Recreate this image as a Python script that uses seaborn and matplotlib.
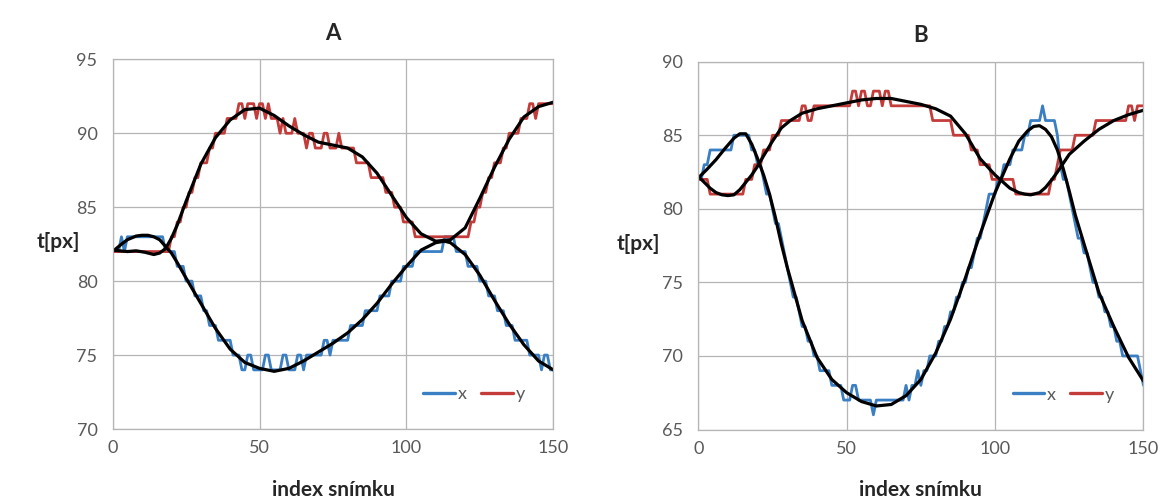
import matplotlib
matplotlib.use("Agg")
import matplotlib.pyplot as plt
import numpy as np
import pandas as pd
import seaborn as sns

# ---------------- data ----------------
frames = list(range(151))

A_x_raw = [82,82,82,83,82,83,83,83,83,83,
           83,83,83,83,83,83,83,83,82,82,
           82,82,81,81,81,80,80,80,79,79,
           79,78,78,77,77,77,76,76,76,76,
           76,75,75,75,74,74,75,75,74,74,
           74,74,75,75,74,74,74,74,75,75,
           74,74,74,75,75,74,75,75,75,75,
           75,75,76,76,75,76,76,76,76,76,
           76,77,77,77,77,77,78,78,78,78,
           78,79,79,79,79,80,80,80,80,81,
           81,81,81,82,82,82,82,82,82,82,
           82,82,82,83,83,83,83,82,82,82,
           82,81,81,81,81,80,80,80,79,79,
           79,78,78,78,77,77,77,76,76,76,
           76,76,75,75,75,75,74,75,75,74,
           74]
A_y_raw = [82,82,82,82,82,82,82,82,82,82,
           82,82,82,82,82,82,82,82,82,82,
           83,83,84,84,85,85,86,86,87,87,
           88,88,88,89,89,90,90,90,90,91,
           91,91,91,92,92,91,92,92,92,91,
           92,92,91,92,91,91,91,90,91,90,
           90,90,91,90,90,90,89,90,90,89,
           89,89,90,90,89,89,89,90,89,89,
           89,89,89,88,88,88,88,88,87,87,
           87,87,87,86,86,86,85,85,85,84,
           84,84,84,83,83,83,83,83,83,83,
           83,83,83,83,83,83,83,83,83,83,
           83,83,84,84,85,85,86,86,87,87,
           88,88,88,89,89,90,90,90,90,91,
           91,91,92,92,91,92,92,92,92,92,
           92]
A_x_fit_frames = [0,3,5,8,10,12,14,16,18,20,22,25,30,35,40,45,50,55,60,65,70,75,80,85,
                  90,95,100,105,110,113,115,120,125,130,135,140,145,150]
A_x_fit = [82.0,82.5,82.8,83.05,83.1,83.1,83.0,82.8,82.35,81.9,81.25,80.2,78.5,76.8,75.4,
           74.5,74.1,73.9,74.1,74.6,75.2,75.8,76.5,77.4,78.5,79.8,81.0,82.1,82.6,82.7,82.6,
           81.8,80.4,78.7,77.1,75.7,74.6,74.0]
A_y_fit_frames = [0,5,8,11,14,16,18,20,22,25,30,35,40,45,50,55,60,65,70,75,80,85,90,95,
                  100,105,110,115,120,125,130,135,140,145,150]
A_y_fit = [82.1,82.0,82.05,81.95,81.8,81.9,82.2,82.9,83.8,85.4,87.9,89.7,90.9,91.6,91.7,
           91.2,90.5,89.9,89.4,89.2,89.0,88.4,87.3,85.8,84.3,83.2,82.7,82.8,83.6,85.6,87.7,
           89.6,91.1,91.8,92.1]

B_x_raw = [82,82,83,83,84,84,84,84,84,84,
           84,84,85,85,85,85,85,85,84,84,
           83,83,82,81,81,80,79,79,78,77,
           76,75,74,74,73,72,72,71,71,70,
           70,69,69,69,69,68,68,68,68,67,
           67,67,68,68,67,67,67,67,67,66,
           67,67,67,67,67,67,67,67,67,67,
           68,67,68,68,69,68,69,69,70,70,
           70,71,71,72,72,73,73,74,74,75,
           75,76,76,77,78,78,79,80,81,81,
           81,82,82,83,83,83,84,84,84,84,
           85,85,86,86,86,86,87,86,86,86,
           86,85,83,82,82,81,80,79,78,78,
           77,77,76,75,75,74,74,73,73,72,
           72,71,71,70,70,70,70,70,70,69,
           68]
B_y_raw = [82,82,82,82,81,81,81,81,81,81,
           81,81,81,81,81,81,82,82,82,83,
           83,83,84,84,84,85,85,85,86,86,
           86,86,86,86,86,87,87,86,86,87,
           87,87,87,87,87,87,87,87,87,87,
           87,87,88,88,87,88,88,87,87,88,
           88,88,87,88,88,87,87,87,87,87,
           87,87,87,87,87,87,87,87,87,86,
           86,86,86,86,86,86,85,85,85,85,
           85,85,84,84,84,83,83,83,83,82,
           82,82,82,82,82,82,82,81,81,81,
           81,81,81,81,81,81,81,81,81,82,
           82,83,84,84,84,84,84,85,85,85,
           85,85,85,85,86,86,86,86,86,86,
           86,86,86,86,86,87,87,86,87,87,
           87]
B_x_fit_frames = [0,3,6,9,12,14,16,18,20,22,24,26,28,30,35,40,45,50,55,60,65,70,75,80,85,
                  90,95,100,105,108,111,113,115,117,119,121,123,125,127,130,135,140,145,150]
B_x_fit = [82.1,82.7,83.35,84.1,84.8,85.1,85.1,84.4,83.4,82.3,81.0,79.4,77.6,76.0,72.4,69.9,
           68.4,67.5,66.9,66.6,66.7,67.3,68.4,70.2,72.5,75.3,78.3,81.1,83.4,84.6,85.3,85.6,
           85.65,85.4,84.9,84.0,82.7,81.2,79.6,77.6,74.3,72.0,69.9,68.3]
B_y_fit_frames = [0,2,4,6,8,10,12,14,16,18,20,22,25,28,31,35,40,45,50,55,60,65,70,75,80,85,
                  90,95,100,105,108,110,112,115,117,119,121,123,125,130,135,140,145,150]
B_y_fit = [82.2,81.8,81.4,81.1,80.95,80.9,80.95,81.3,81.8,82.3,82.9,83.6,84.6,85.5,86.0,86.5,
           86.8,87.0,87.2,87.4,87.5,87.5,87.3,87.1,86.8,86.3,85.1,83.4,82.3,81.4,81.1,81.0,
           80.95,81.1,81.45,81.95,82.5,83.1,83.7,84.6,85.4,86.0,86.4,86.7]

titles = ["A", "B"]
y_ticks = [[70, 75, 80, 85, 90, 95], [65, 70, 75, 80, 85, 90]]
x_ticks = [0, 50, 100, 150]

# ---------------- style ----------------
sns.set_theme(style="white")
plt.rcParams["font.family"] = ["Lato", "DejaVu Sans"]

BLUE = "#3a7fc3"
RED = "#c43c3a"
GRID = "#b5b5b5"
TXT = "#595959"
LBL = "#262626"

fig = plt.figure(figsize=(11.65, 5.04), dpi=100)
axA = fig.add_axes([0.0967, 0.1488, 0.3782, 0.7335])
axB = fig.add_axes([0.5994, 0.1478, 0.3821, 0.7298])

panels = [
    (axA, A_x_raw, A_y_raw, A_x_fit_frames, A_x_fit, A_y_fit_frames, A_y_fit),
    (axB, B_x_raw, B_y_raw, B_x_fit_frames, B_x_fit, B_y_fit_frames, B_y_fit),
]
label_x = [-0.124, -0.135]

for i, (ax, xr, yr, xff, xf, yff, yf) in enumerate(panels):
    raw = pd.DataFrame({"frame": frames * 2,
                        "val": xr + yr,
                        "series": ["x"] * len(xr) + ["y"] * len(yr)})
    fit = pd.DataFrame({"frame": xff + yff,
                        "val": xf + yf,
                        "series": ["fx"] * len(xf) + ["fy"] * len(yf)})
    sns.lineplot(data=raw, x="frame", y="val", hue="series",
                 palette={"x": BLUE, "y": RED}, estimator=None, sort=False,
                 linewidth=2.0, ax=ax, legend=True)
    sns.lineplot(data=fit, x="frame", y="val", units="series",
                 color="black", estimator=None, sort=False,
                 linewidth=2.3, ax=ax, legend=False)
    for ln in ax.lines:
        ln.set_solid_joinstyle("round")
        ln.set_solid_capstyle("round")

    ax.set_xlim(0, 150)
    ax.set_ylim(y_ticks[i][0], y_ticks[i][-1])
    ax.set_xticks(x_ticks)
    ax.set_yticks(y_ticks[i])
    ax.grid(True, color=GRID, linewidth=0.9)
    ax.set_axisbelow(True)
    for s in ax.spines.values():
        s.set_color(GRID)
        s.set_linewidth(0.9)
    ax.tick_params(axis="both", length=0, labelsize=13, labelcolor=TXT)
    ax.tick_params(axis="y", pad=11)
    ax.tick_params(axis="x", pad=8)

    ax.set_title(titles[i], fontsize=16, fontweight="bold", color=LBL, pad=14)
    ax.set_ylabel("t[px]", rotation=0, fontsize=15, fontweight="bold", color=LBL,
                  ha="center", va="center")
    ax.yaxis.set_label_coords(label_x[i], 0.505)
    ax.set_xlabel("index snímku", fontsize=15, fontweight="bold", color=LBL,
                  va="center")
    ax.xaxis.set_label_coords(0.5, -0.165)

    handles, labels = ax.get_legend_handles_labels()
    leg = ax.legend(handles, labels, loc="center", bbox_to_anchor=(0.82, 0.095),
                    ncol=2, frameon=False, fontsize=13, handlelength=1.75,
                    handletextpad=0.15, columnspacing=0.8, borderaxespad=0)
    for t in leg.get_texts():
        t.set_color(TXT)
    for h in leg.get_lines():
        h.set_linewidth(2.4)

fig.savefig("out.png", dpi=100)
